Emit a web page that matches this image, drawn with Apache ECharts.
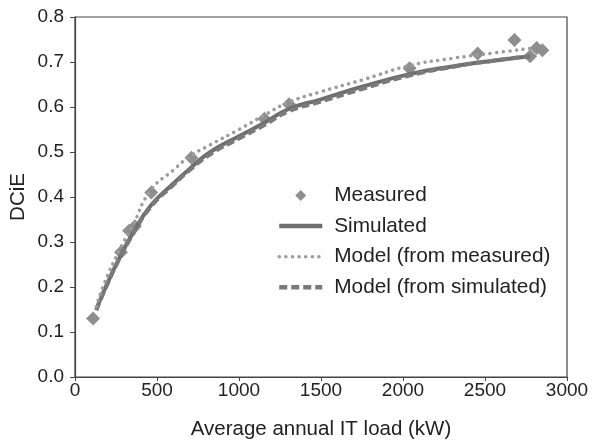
<!DOCTYPE html>
<html>
<head>
<meta charset="utf-8">
<script src="https://cdn.jsdelivr.net/npm/echarts@6/dist/echarts.min.js"></script>
<style>
  html, body { margin: 0; padding: 0; background: #fff; }
  #chart { width: 607px; height: 443px; }
</style>
</head>
<body>
<div id="chart"></div>
<script>
// measured points (kW, DCiE)
const measuredX = [110, 280, 330, 365, 465, 710, 1155, 1305, 2040, 2455, 2680, 2775, 2815, 2850];
const measuredY = [0.13, 0.277, 0.325, 0.335, 0.41, 0.487, 0.574, 0.606, 0.686, 0.719, 0.749, 0.713, 0.731, 0.726];

// curves, read at these loads
const curveX = [130, 175, 275, 350, 460, 600, 700, 825, 1000, 1155, 1300, 1500, 1750, 2040, 2300, 2550, 2775];
const simulatedY = [0.15, 0.19, 0.268, 0.318, 0.38, 0.43, 0.463, 0.5, 0.535, 0.565, 0.595, 0.617, 0.645, 0.673, 0.69, 0.703, 0.713];
const modelMeasuredY = [0.156, 0.205, 0.285, 0.335, 0.414, 0.46, 0.49, 0.516, 0.55, 0.582, 0.61, 0.634, 0.66, 0.692, 0.708, 0.72, 0.73];
const modelSimulatedY = [0.148, 0.188, 0.266, 0.315, 0.377, 0.427, 0.46, 0.495, 0.53, 0.56, 0.59, 0.612, 0.64, 0.67, 0.689, 0.703, 0.713];

const xTicks = [0, 500, 1000, 1500, 2000, 2500, 3000];
const yTicks = [0.0, 0.1, 0.2, 0.3, 0.4, 0.5, 0.6, 0.7, 0.8];

const pairs = (xs, ys) => xs.map((x, i) => [x, ys[i]]);

const chart = echarts.init(document.getElementById('chart'));
const font = 'Liberation Sans, Arial, sans-serif';
const tickStyle = { color: '#222', fontSize: 19, fontFamily: font };
const nameStyle = { color: '#222', fontSize: 20.5, fontFamily: font };

// small diamond centred in a 43x12 box (tiny corner dots fix the box)
const diamondIcon = 'path://M0,0h0.01v0.01h-0.01z M43,12h0.01v0.01h-0.01z M21.5,0.5L27,6L21.5,11.5L16,6Z';
const hideMarker = { opacity: 0 };

chart.setOption({
  animation: false,
  grid: {
    left: 75, right: 40, top: 17, bottom: 66,
    outerBoundsMode: 'none',
    show: true, borderColor: '#444', borderWidth: 1.2
  },
  legend: {
    orient: 'vertical',
    left: 272, top: 180,
    itemWidth: 43, itemHeight: 12, itemGap: 9.6,
    textStyle: { color: '#222', fontSize: 20.8, lineHeight: 20, fontFamily: font, padding: [0, 0, 0, 7] },
    data: [
      { name: 'Measured', icon: diamondIcon },
      { name: 'Simulated', itemStyle: hideMarker, lineStyle: { width: 4.5 } },
      { name: 'Model (from measured)', itemStyle: hideMarker, lineStyle: { width: 3.5 } },
      { name: 'Model (from simulated)', itemStyle: hideMarker, lineStyle: { width: 4.5 } }
    ]
  },
  xAxis: {
    type: 'value', min: 0, max: 3000, interval: 500,
    name: 'Average annual IT load (kW)', nameLocation: 'middle', nameGap: 42,
    nameMoveOverlap: false,
    nameTextStyle: nameStyle,
    axisLine: { lineStyle: { color: '#444', width: 1.2 } },
    axisTick: { inside: false, length: 4, lineStyle: { color: '#444' } },
    axisLabel: Object.assign({ margin: 4, formatter: v => xTicks.includes(v) ? String(v) : '' }, tickStyle),
    splitLine: { show: false }
  },
  yAxis: {
    type: 'value', min: 0, max: 0.8, interval: 0.1,
    name: 'DCiE', nameLocation: 'middle', nameGap: 46,
    nameMoveOverlap: false,
    nameTextStyle: nameStyle,
    axisLine: { show: true, lineStyle: { color: '#444', width: 1.2 } },
    axisTick: { show: true, inside: false, length: 5, lineStyle: { color: '#444' } },
    axisLabel: Object.assign({ margin: 11, formatter: v => yTicks.find(t => Math.abs(t - v) < 1e-6).toFixed(1) }, tickStyle),
    splitLine: { show: false }
  },
  series: [
    {
      name: 'Simulated', type: 'line', smooth: true, symbol: 'none',
      data: pairs(curveX, simulatedY),
      lineStyle: { color: '#6e6e6e', width: 4 },
      itemStyle: { color: '#6e6e6e' }
    },
    {
      name: 'Model (from simulated)', type: 'line', smooth: true, symbol: 'none',
      data: pairs(curveX, modelSimulatedY),
      lineStyle: { color: '#7a7a7a', width: 4, type: [8, 4] },
      itemStyle: { color: '#7a7a7a' }
    },
    {
      name: 'Model (from measured)', type: 'line', smooth: true, symbol: 'none',
      data: pairs(curveX, modelMeasuredY),
      lineStyle: { color: '#9c9c9c', width: 3.5, type: [0.1, 6.5], cap: 'round' },
      itemStyle: { color: '#9c9c9c' }
    },
    {
      name: 'Measured', type: 'scatter', symbol: 'diamond', symbolSize: 14,
      data: pairs(measuredX, measuredY),
      itemStyle: { color: '#8e8e8e', opacity: 1 }
    }
  ]
});
</script>
</body>
</html>
